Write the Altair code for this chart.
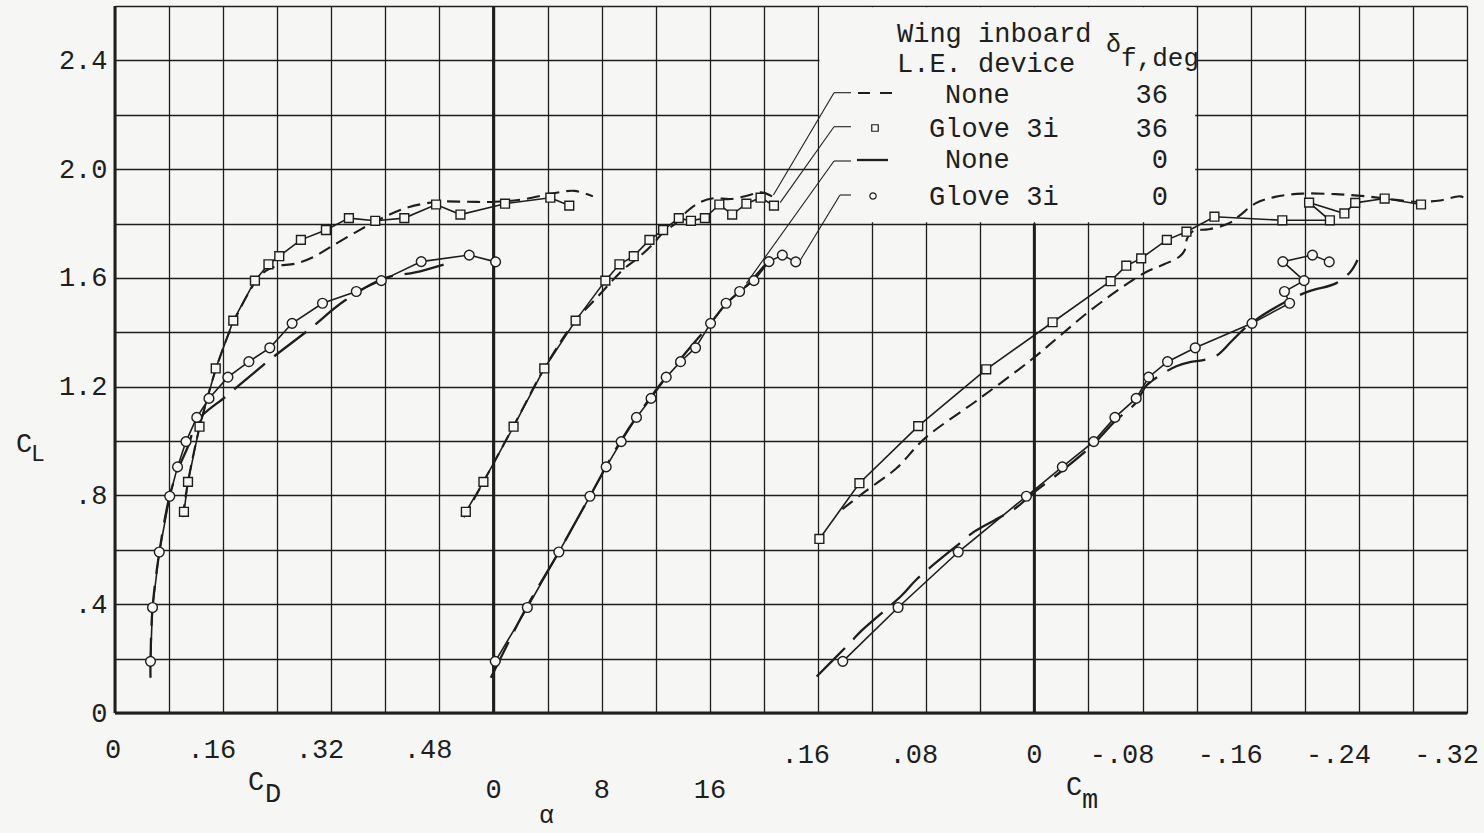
import altair as alt
import pandas as pd

INK = "#1e1e1e"
BG = "#f6f6f4"
FONT = "Liberation Mono"
FS = 27

# ---------------- data ----------------
# Glove 3i, delta_f = 36 deg (square symbols, solid line)
SQ_CL = [0.74, 0.85, 1.053, 1.267, 1.443, 1.59, 1.65, 1.68, 1.74, 1.776, 1.82, 1.81, 1.82, 1.87, 1.833, 1.873, 1.895, 1.866]
SQ_CD = [0.102, 0.108, 0.125, 0.149, 0.175, 0.207, 0.227, 0.243, 0.275, 0.312, 0.346, 0.385, 0.428, 0.475, 0.511, 0.577, 0.644, 0.672]
SQ_ALPHA = [-2.05, -0.75, 1.48, 3.75, 6.07, 8.27, 9.31, 10.37, 11.53, 12.54, 13.7, 14.6, 15.63, 16.7, 17.65, 18.7, 19.75, 20.74]
SQ_CM = [0.159, 0.1294, 0.0859, 0.0356, -0.0135, -0.0564, -0.068, -0.079, -0.098, -0.1125, -0.1332, -0.1834, -0.2186, -0.2032, -0.2293, -0.2373, -0.2591, -0.286]
SQ_CM_CL = [0.64, 0.845, 1.055, 1.264, 1.437, 1.588, 1.645, 1.672, 1.74, 1.77, 1.825, 1.812, 1.812, 1.877, 1.837, 1.876, 1.892, 1.87]

# Glove 3i, delta_f = 0 deg (circle symbols, solid line)
CI_CL = [0.19, 0.388, 0.592, 0.797, 0.905, 0.998, 1.087, 1.157, 1.235, 1.292, 1.343, 1.433, 1.507, 1.55, 1.59, 1.66, 1.684, 1.659]
CI_CD = [0.0525, 0.0555, 0.0655, 0.081, 0.0925, 0.105, 0.121, 0.139, 0.167, 0.198, 0.229, 0.262, 0.307, 0.357, 0.394, 0.453, 0.524, 0.563]
CI_ALPHA = [0.125, 2.5, 4.83, 7.13, 8.33, 9.44, 10.57, 11.65, 12.77, 13.83, 14.94, 16.05, 17.2, 18.2, 19.26, 20.37, 21.36, 22.35]
CI_CM = [0.1417, 0.1008, 0.0563, 0.0059, -0.0207, -0.0439, -0.0596, -0.0753, -0.0845, -0.0985, -0.119, -0.161, -0.1888, -0.185, -0.1995, -0.1838, -0.2057, -0.2181]

# No L.E. device, delta_f = 36 deg (short dashes)
N36_CD = [0.100, 0.108, 0.125, 0.150, 0.176, 0.209, 0.223, 0.238, 0.268, 0.292, 0.319, 0.361, 0.400, 0.434, 0.478, 0.522, 0.562, 0.606, 0.645, 0.680, 0.707]
N36_CD_CL = [0.72, 0.85, 1.05, 1.27, 1.44, 1.59, 1.626, 1.643, 1.653, 1.675, 1.714, 1.775, 1.826, 1.86, 1.88, 1.88, 1.88, 1.89, 1.91, 1.92, 1.90]
N36_ALPHA = [-2.2, -0.75, 1.48, 3.75, 6.0, 7.5, 8.6, 9.6, 10.6, 11.8, 12.6, 13.46, 14.3, 15.3, 16.3, 17.5, 18.8, 19.75, 20.6]
N36_ALPHA_CL = [0.72, 0.85, 1.055, 1.267, 1.44, 1.52, 1.58, 1.632, 1.67, 1.725, 1.77, 1.80, 1.844, 1.879, 1.893, 1.89, 1.903, 1.915, 1.90]
N36_CM = [0.142, 0.129, 0.12, 0.102, 0.081, 0.042, 0.0025, -0.017, -0.039, -0.061, -0.082, -0.096, -0.107, -0.111, -0.113,
          -0.1175, -0.129, -0.1436, -0.152, -0.1635, -0.178, -0.198, -0.223, -0.2455, -0.263, -0.283, -0.30, -0.315, -0.32]
N36_CM_CL = [0.75, 0.80, 0.833, 0.90, 1.01, 1.151, 1.298, 1.379, 1.471, 1.552, 1.62, 1.65, 1.677, 1.70, 1.745,
             1.772, 1.779, 1.80, 1.83, 1.874, 1.898, 1.91, 1.908, 1.90, 1.89, 1.88, 1.885, 1.90, 1.89]

# No L.E. device, delta_f = 0 deg (long dashes)
N0_CD = [0.0525, 0.0525, 0.0555, 0.0655, 0.081, 0.094, 0.108, 0.1227, 0.1644, 0.206, 0.232, 0.287, 0.339, 0.40, 0.444, 0.494]
N0_CD_CL = [0.13, 0.19, 0.385, 0.59, 0.80, 0.90, 0.98, 1.077, 1.165, 1.252, 1.305, 1.41, 1.515, 1.60, 1.62, 1.655]
N0_ALPHA = [-0.2, 2.4, 4.8, 7.1, 9.4, 11.6, 13.8, 16.0, 17.2, 18.2, 18.9, 19.6, 20.2]
N0_ALPHA_CL = [0.13, 0.385, 0.59, 0.795, 1.0, 1.16, 1.30, 1.43, 1.505, 1.55, 1.58, 1.62, 1.655]
N0_CM = [0.161, 0.135, 0.128, 0.098, 0.087, 0.055, 0.0445, 0.014, 0.0005, -0.020, -0.044, -0.060, -0.075,
         -0.083, -0.094, -0.105, -0.115, -0.125, -0.135, -0.146, -0.1585, -0.188, -0.2045, -0.223, -0.234, -0.239]
N0_CM_CL = [0.134, 0.265, 0.302, 0.433, 0.492, 0.625, 0.667, 0.753, 0.811, 0.889, 0.99, 1.075, 1.14,
            1.205, 1.245, 1.275, 1.29, 1.298, 1.315, 1.368, 1.427, 1.518, 1.553, 1.58, 1.624, 1.666]

# axis ticks
CD_TICKS = [0, 0.16, 0.32, 0.48]
CD_TICK_LABELS = ["0", ".16", ".32", ".48"]
ALPHA_TICKS = [0, 8, 16]
ALPHA_TICK_LABELS = ["0", "8", "16"]
CM_TICKS = [0.16, 0.08, 0, -0.08, -0.16, -0.24, -0.32]
CM_TICK_LABELS = [".16", ".08", "0", "-.08", "-.16", "-.24", "-.32"]
CL_GRID = [0, 0.2, 0.4, 0.6, 0.8, 1.0, 1.2, 1.4, 1.6, 1.8, 2.0, 2.2, 2.4, 2.6]
CL_TICKS = [0, 0.4, 0.8, 1.2, 1.6, 2.0, 2.4]
CL_TICK_LABELS = ["0", ".4", ".8", "1.2", "1.6", "2.0", "2.4"]

# legend entries
LEG_DEVICE = ["None", "Glove 3i", "None", "Glove 3i"]
LEG_DEFLECTION = ["36", "36", "0", "0"]
# leader lines point at these (alpha, C_L) places on the alpha-panel curves
LEADER_ALPHA = [20.7, 21.2, 18.7, 22.7]
LEADER_CL = [1.905, 1.877, 1.58, 1.666]

# ---------------- layout ----------------
LEFT, TOP = 115, 6
W, H = 1352, 707
U_MAX, CL_MAX = 25, 2.6


def px_u(px):
    return (px - LEFT) * U_MAX / W


def py_cl(py):
    return CL_MAX - (py - TOP) * CL_MAX / H


# each panel shares one grid; u = grid units from the left edge
PANEL_TO_U = ("datum.panel == 'CD' ? datum.x / 0.08 : "
              "(datum.panel == 'alpha' ? 7 + datum.x / 4 : 17 - datum.x / 0.04)")


def curve(series, panel, xs, cls):
    return [{"series": series, "panel": panel, "x": x, "CL": c, "i": k}
            for k, (x, c) in enumerate(zip(xs, cls))]


records = (
    curve("sq", "CD", SQ_CD, SQ_CL) + curve("sq", "alpha", SQ_ALPHA, SQ_CL) + curve("sq", "Cm", SQ_CM, SQ_CM_CL)
    + curve("ci", "CD", CI_CD, CI_CL) + curve("ci", "alpha", CI_ALPHA, CI_CL) + curve("ci", "Cm", CI_CM, CI_CL)
    + curve("n36", "CD", N36_CD, N36_CD_CL) + curve("n36", "alpha", N36_ALPHA, N36_ALPHA_CL)
    + curve("n36", "Cm", N36_CM, N36_CM_CL)
    + curve("n0", "CD", N0_CD, N0_CD_CL) + curve("n0", "alpha", N0_ALPHA, N0_ALPHA_CL)
    + curve("n0", "Cm", N0_CM, N0_CM_CL)
)
df = pd.DataFrame(records)

label_expr = "''"
for v, t in reversed(list(zip(CL_TICKS, CL_TICK_LABELS))):
    label_expr = f"abs(datum.value - {v}) < 1e-6 ? '{t}' : ({label_expr})"

X = alt.X("u:Q", scale=alt.Scale(domain=[0, U_MAX], nice=False, zero=False),
          axis=alt.Axis(values=list(range(U_MAX + 1)), grid=True, gridColor=INK, gridWidth=1.3,
                        gridOpacity=1, labels=False, ticks=False, domain=False, title=None))
Y = alt.Y("CL:Q", scale=alt.Scale(domain=[0, CL_MAX], nice=False, zero=False),
          axis=alt.Axis(values=CL_GRID, grid=True, gridColor=INK, gridWidth=1.3, gridOpacity=1,
                        ticks=False, domain=False, title=None, labelExpr=label_expr,
                        labelFont=FONT, labelFontSize=FS, labelColor=INK, labelPadding=8,
                        labelOverlap=False, labelFlush=False, labelBound=False))

base = alt.Chart(df).transform_calculate(u=PANEL_TO_U)


def series(name):
    return base.transform_filter(f"datum.series == '{name}'")


enc = dict(x=X, y=Y, detail="panel:N", order="i:Q")

line_n36 = series("n36").mark_line(color=INK, strokeWidth=2.1, strokeDash=[13, 7],
                                   interpolate="catmull-rom").encode(**enc)
line_n0 = series("n0").mark_line(color=INK, strokeWidth=2.3, strokeDash=[40, 12],
                                 interpolate="catmull-rom").encode(**enc)
line_sq = series("sq").mark_line(color=INK, strokeWidth=1.6).encode(**enc)
line_ci = series("ci").mark_line(color=INK, strokeWidth=1.6).encode(**enc)
pts_sq = series("sq").mark_square(size=78, fill=BG, stroke=INK, strokeWidth=1.4, opacity=1).encode(x=X, y=Y)
pts_ci = series("ci").mark_circle(size=95, fill=BG, stroke=INK, strokeWidth=1.4, opacity=1).encode(x=X, y=Y)

# heavy lines: left edge (C_D = 0), alpha = 0, C_m = 0, and the bottom (C_L = 0)
zero_df = pd.DataFrame({"panel": ["CD", "alpha", "Cm"], "x": [0, 0, 0], "CL": [0, 0, 0],
                        "top": [CL_MAX, CL_MAX, 1.8]})
thick_v = alt.Chart(zero_df).transform_calculate(u=PANEL_TO_U).mark_rule(
    color=INK, strokeWidth=3).encode(x=X, y=Y, y2="top:Q")
bottom_df = pd.DataFrame({"u": [0], "u2": [U_MAX], "CL": [0]})
thick_h = alt.Chart(bottom_df).mark_rule(color=INK, strokeWidth=3.2).encode(x=X, x2="u2:Q", y=Y)

# legend box (blank area hiding the grid)
box_df = pd.DataFrame({"u": [13.025], "u2": [19.975], "CL": [1.805], "CL2": [2.595]})
legend_box = alt.Chart(box_df).mark_rect(fill=BG).encode(x=X, x2="u2:Q", y=Y, y2="CL2:Q")

# leader lines from the legend rows to the curves in the alpha panel
row_y = [92.7, 126.7, 161, 195]
row_x0 = [834, 834, 834, 840]
seg = []
for k in range(4):
    yy = py_cl(row_y[k])
    seg.append({"u": px_u(851), "CL": yy, "u2": px_u(row_x0[k]), "CL2": yy})
    seg.append({"u": px_u(row_x0[k]), "CL": yy, "u2": 7 + LEADER_ALPHA[k] / 4, "CL2": LEADER_CL[k]})
leaders = alt.Chart(pd.DataFrame(seg)).mark_rule(color=INK, strokeWidth=1.1).encode(
    x=X, y=Y, x2="u2:Q", y2="CL2:Q")

ONE = pd.DataFrame({"_": [0]})


def txt(s, px, py, size=FS, align="left"):
    return alt.Chart(ONE).mark_text(text=s, font=FONT, fontSize=size, color=INK, align=align,
                                    baseline="alphabetic").encode(
        x=alt.value(px - LEFT), y=alt.value(py - TOP))


row_base = [103, 137, 168, 205]
legend_texts = [
    txt("Wing inboard", 897, 42),
    txt("L.E. device", 897, 72),
    txt("δ", 1106, 52, size=25),
    txt("f,deg", 1121, 66, size=26),
]
for k in range(4):
    legend_texts.append(txt(LEG_DEVICE[k], 945 if LEG_DEVICE[k] == "None" else 929, row_base[k]))
    legend_texts.append(txt(LEG_DEFLECTION[k], 1168, row_base[k], align="right"))

sym_n36 = alt.Chart(ONE).mark_rule(color=INK, strokeWidth=2.1, strokeDash=[12, 10]).encode(
    x=alt.value(858 - LEFT), x2=alt.value(892 - LEFT), y=alt.value(93 - TOP))
sym_n0 = alt.Chart(ONE).mark_rule(color=INK, strokeWidth=2.3).encode(
    x=alt.value(857 - LEFT), x2=alt.value(888 - LEFT), y=alt.value(160 - TOP))
sym_sq = alt.Chart(ONE).mark_square(size=42, fill=BG, stroke=INK, strokeWidth=1.2, opacity=1).encode(
    x=alt.value(875 - LEFT), y=alt.value(128 - TOP))
sym_ci = alt.Chart(ONE).mark_circle(size=40, fill=BG, stroke=INK, strokeWidth=1.2, opacity=1).encode(
    x=alt.value(873 - LEFT), y=alt.value(196 - TOP))

# bottom tick labels, placed through the shared grid scale
tick_rows = ([{"panel": "CD", "x": v, "label": t} for v, t in zip(CD_TICKS, CD_TICK_LABELS)]
             + [{"panel": "alpha", "x": v, "label": t} for v, t in zip(ALPHA_TICKS, ALPHA_TICK_LABELS)]
             + [{"panel": "Cm", "x": v, "label": t} for v, t in zip(CM_TICKS, CM_TICK_LABELS)])
ticks_df = pd.DataFrame(tick_rows)


def tick_layer(panel, baseline_px, zero, align, dx):
    cond = "datum.label == '0'" if zero else "datum.label != '0'"
    return (alt.Chart(ticks_df)
            .transform_filter(f"datum.panel == '{panel}' && {cond}")
            .transform_calculate(u=PANEL_TO_U)
            .mark_text(font=FONT, fontSize=FS, color=INK, align=align, baseline="alphabetic", dx=dx)
            .encode(x=X, y=alt.value(baseline_px - TOP), text="label:N"))


tick_layers = [
    tick_layer("CD", 758, False, "right", 13),
    tick_layer("CD", 758, True, "center", -2),
    tick_layer("alpha", 798, False, "center", 0),
    tick_layer("alpha", 798, True, "center", 0),
    tick_layer("Cm", 763, False, "right", 12),
    tick_layer("Cm", 763, True, "center", 0),
]

titles = [
    txt("C", 248, 790), txt("D", 265, 802),
    txt("α", 539, 823, size=25),
    txt("C", 1066, 795), txt("m", 1082, 808),
    txt("C", 16, 452), txt("L", 31, 461, size=23),
]

chart = alt.layer(
    legend_box, thick_v, thick_h, leaders,
    line_n36, line_n0, line_sq, line_ci, pts_sq, pts_ci,
    sym_n36, sym_n0, sym_sq, sym_ci,
    *legend_texts, *tick_layers, *titles,
).properties(
    width=W, height=H,
    padding={"left": LEFT, "top": TOP, "right": 1484 - LEFT - W, "bottom": 833 - TOP - H},
    autosize=alt.AutoSizeParams(type="none"),
    background=BG,
).configure_view(stroke=None)

chart.save("out.html", embed_options={"renderer": "svg", "actions": False})
